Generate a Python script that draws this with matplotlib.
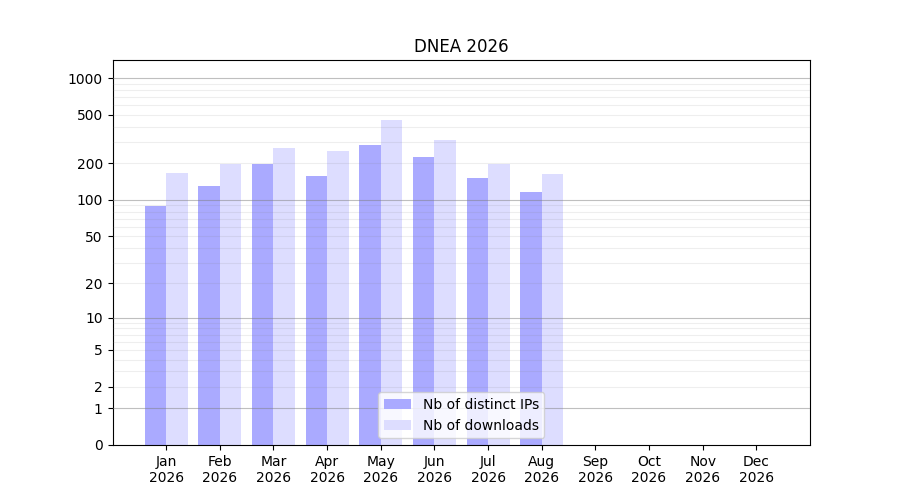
import matplotlib
matplotlib.use("Agg")
import matplotlib.pyplot as plt
import numpy as np

months = ["Jan", "Feb", "Mar", "Apr", "May", "Jun", "Jul", "Aug", "Sep", "Oct", "Nov", "Dec"]
year = "2026"
distinct_ips = [89, 130, 198, 157, 283, 225, 152, 116]
downloads = [167, 198, 267, 253, 453, 311, 198, 163]
y_ticks = [0, 1, 2, 5, 10, 20, 50, 100, 200, 500, 1000]


def fwd(y):
    return np.log10(1 + np.maximum(y, 0))


def inv(y):
    return 10 ** y - 1


fig, ax = plt.subplots(figsize=(9, 5), dpi=100)
ax.set_yscale("function", functions=(fwd, inv))

x = np.arange(len(distinct_ips))
ax.bar(x - 0.2, distinct_ips, width=0.4, color="#aaaaff", label="Nb of distinct IPs", zorder=2)
ax.bar(x + 0.2, downloads, width=0.4, color="#ddddff", label="Nb of downloads", zorder=2)

# grid over the bars: decades darker, the rest light
for dec in [1, 10, 100, 1000]:
    ax.axhline(dec, color="gray", lw=0.8, alpha=0.5, zorder=3)
    for m in range(2, 10):
        v = dec * m
        if v < 1400:
            ax.axhline(v, color="gray", lw=0.8, alpha=0.13, zorder=3)

ax.set_ylim(0, 1405)
ax.set_yticks(y_ticks)
ax.set_yticklabels([str(t) for t in y_ticks])
ax.minorticks_off()

ax.set_xlim(-1, 12)
ax.set_xticks(np.arange(len(months)))
ax.set_xticklabels([f"{m}\n{year}" for m in months])

ax.set_title("DNEA 2026")
leg = ax.legend(loc="lower center")
leg.set_zorder(5)

fig.savefig("out.png")
